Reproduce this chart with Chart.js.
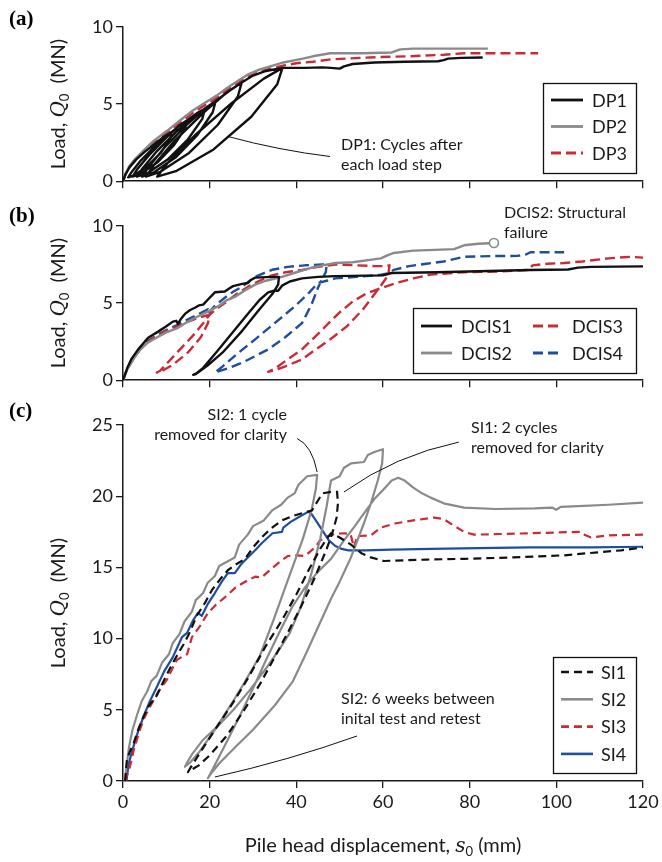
<!DOCTYPE html>
<html>
<head>
<meta charset="utf-8">
<script src="https://cdn.jsdelivr.net/npm/chart.js@4.4.1/dist/chart.umd.min.js"></script>
<style>
  html, body { margin: 0; padding: 0; background: #fff; }
  #wrap { position: relative; width: 662px; height: 862px; }
  canvas { position: absolute; left: 0; }
</style>
</head>
<body>
<div id="wrap">
  <canvas id="chartA" width="662" height="195" style="top:0px"></canvas>
  <canvas id="chartB" width="662" height="195" style="top:199px"></canvas>
  <canvas id="chartC" width="662" height="464" style="top:398px"></canvas>
</div>
<script>
// ---- data: [displacement s0 (mm), load Q0 (MN)] ----
const dp1 = [
  [0,0],[0.5,0.4],[1.5,0.9],[3,1.4],[5,1.9],[7.5,2.45],[9.5,2.9],[11.3,3.2],
  [10.9,2.76],[8.8,1.87],[5.7,0.99],[2.7,0.4],[1.2,0.25],[2.0,0.6],[4.2,1.37],[7.3,2.25],[9.8,2.91],[11.3,3.2],
  [13,3.6],[14.8,3.95],
  [14.3,3.4],[11.65,2.3],[7.9,1.21],[4.1,0.48],[2.2,0.3],[3.2,0.74],[6.0,1.69],[9.8,2.78],[12.9,3.59],[14.8,3.95],
  [17,4.4],[18.9,4.7],
  [18.3,4.04],[15.0,2.72],[10.3,1.4],[5.6,0.52],[3.2,0.3],[4.5,0.83],[7.9,1.97],[12.6,3.29],[16.6,4.26],[18.9,4.7],
  [21.4,5.2],
  [20.7,4.47],[17.2,3.0],[12.1,1.53],[7.0,0.55],[4.4,0.3],[5.8,0.89],[9.5,2.16],[14.6,3.63],[18.9,4.71],[21.4,5.2],
  [24.5,5.85],[27.4,6.4],
  [26.5,5.49],[21.9,3.66],[15.25,1.83],[8.6,0.61],[5.3,0.3],[7.1,1.03],[11.9,2.62],[18.6,4.45],[24.1,5.79],[27.4,6.4],
  [30,6.85],[33,7.15],[36.8,7.35],
  [35.6,6.29],[29.6,4.18],[20.9,2.06],[12.2,0.65],[7.9,0.3],[10.2,1.15],[16.6,2.98],[25.2,5.09],[32.5,6.65],[36.8,7.35],
  [42,7.35],[46,7.38],[48,7.35],[50,7.3],[51,7.45],[53,7.6],[58,7.7],[65,7.75],[72.7,7.78],[74,7.85],[75,7.95],[78,8.0],[83,8.02]
];
const dp2 = [
  [0,0],[0.6,0.5],[1.5,1.0],[3,1.5],[4.6,1.95],[7,2.6],[10.1,3.25],[13,3.9],[16.2,4.6],[19,5.1],[21.6,5.55],
  [24,6.05],[27,6.6],[29,6.95],[31.6,7.25],[34,7.45],[37,7.7],[41.5,7.95],[43.8,8.1],[47.8,8.3],[55,8.3],
  [62,8.35],[64,8.55],[67,8.6],[84.2,8.6]
];
const dp3 = [
  [0,0],[0.6,0.45],[1.5,0.9],[3,1.4],[4.6,1.85],[7,2.5],[10.1,3.15],[13,3.75],[16.2,4.45],[19,4.95],[21.6,5.4],
  [24,5.9],[27,6.45],[29,6.8],[31.6,7.1],[34,7.3],[37,7.5],[40,7.65],[43.8,7.75],[48,7.9],[55,8.0],[59.5,8.05],
  [66,8.1],[74,8.2],[78.7,8.3],[95.8,8.3]
];

const dcis1 = [
  [0,0],[1,0.8],[2,1.4],[3.5,2.0],[5.8,2.75],[8.1,3.15],[10,3.5],[11.5,3.8],[12.3,3.85],[12.7,3.65],[13.3,3.95],
  [14.3,4.3],[15.5,4.55],[16.6,4.7],[17.5,4.85],[18.5,4.9],[19.5,5.2],[21.2,5.7],[23.5,5.75],[24.5,5.95],[25.4,6.1],
  [27.5,6.25],[28.8,6.3],[29.5,6.5],[30.5,6.65],[34.5,6.7],[36,6.7],
  [35.8,6.2],[34.5,5.6],[31.5,4.6],[27.5,3.2],[23,1.8],[19.5,0.95],[17.3,0.5],[16.2,0.35],
  [16.8,0.4],[18.5,0.8],[21.5,1.8],[25,3.0],[28.5,4.2],[31.5,5.2],[33.5,5.7],[34.8,5.8],[35.8,5.8],[36.8,6.15],
  [38.5,6.4],[41.3,6.6],[45,6.7],[49,6.75],[56,6.78],[60,6.8],[62,6.95],[72.5,7.0],[94,7.15],[102.7,7.18],
  [105,7.3],[108,7.35],[120,7.38]
];
const dcis2 = [
  [0,0],[1,0.7],[2.5,1.4],[4,2.0],[5.8,2.45],[8,2.8],[10,3.1],[12.7,3.4],[15,3.8],[17,4.1],[19.6,4.45],[22,4.8],
  [24,5.2],[25.8,5.4],[28,5.8],[30.5,6.2],[33,6.45],[36.7,6.7],[40,7.0],[43.6,7.3],[46,7.45],[49,7.6],[53,7.65],
  [57,7.8],[59.5,7.9],[61,8.1],[62.5,8.25],[67,8.4],[72,8.45],[76.4,8.5],[78.7,8.75],[82,8.85],[85.6,8.9]
];
const dcis3 = [
  [0,0],[1,0.75],[2.5,1.45],[4,2.0],[5.8,2.5],[8,2.9],[10,3.2],[12.7,3.5],[15,3.8],[17.5,4.05],[20,4.25],
  [19.6,3.7],[18,2.8],[15,1.8],[11.5,1.0],[9,0.6],[7.8,0.5],
  [8.5,0.6],[10.5,1.2],[13.5,2.1],[16.5,3.0],[18.8,3.8],[20,4.25],
  [21.5,4.6],[23.5,5.0],[26,5.55],[28.8,6.05],[31.5,6.45],[34.4,6.8],[37.5,7.0],[41.3,7.15],[45,7.35],[49,7.5],
  [54,7.45],[57.9,7.4],[60.5,7.4],[61.5,7.45],
  [61.2,6.8],[59.3,6.06],[55.4,4.6],[51.7,3.5],[47.8,2.65],[44,1.9],[41.3,1.35],[37.5,0.9],[35,0.65],[33.5,0.55],
  [35,0.75],[38,1.35],[41.3,2.0],[45,3.0],[47.8,3.8],[50,4.4],[53,5.1],[56,5.6],[59.3,5.95],[63,6.3],[67,6.6],
  [71,6.85],[78.5,7.0],[86.5,7.05],[93.5,7.15],[94.5,7.45],[98,7.55],[101.8,7.6],[106,7.7],[112,7.9],[117,8.0],[120,7.95]
];
const dcis4 = [
  [0,0],[1,0.75],[2.5,1.45],[4,2.05],[5.8,2.55],[8,2.95],[10,3.25],[12.7,3.6],[15,3.95],[17.5,4.3],[19.6,4.6],
  [19.9,4.3],[20.3,4.55],[21.5,4.9],[23.5,5.35],[25.5,5.75],[27.5,6.06],[29,6.4],[30.5,6.7],[32.5,6.95],[34.4,7.16],
  [38,7.35],[42,7.45],[46,7.5],[47,7.5],
  [46.8,7.0],[45.8,6.5],[45,6.0],[43.5,4.9],[41.3,3.7],[37.5,2.8],[33.5,2.0],[28,1.2],[24.5,0.8],[21.2,0.5],
  [23,0.9],[26.5,1.75],[30.5,2.65],[35,3.7],[39.7,4.8],[43,5.7],[45,6.3],[47,6.45],[49,6.6],[54,6.7],[59.5,6.84],
  [61.5,6.95],[62.5,7.16],[66,7.4],[70,7.55],[74,7.7],[78.7,8.0],[85,8.05],[91,8.06],[93,8.15],[94,8.3],[101.8,8.3]
];

const si1 = [
  [0.5,0],[0.9,1.5],[1.5,2.0],[2.4,2.6],[3.5,3.6],[4.7,4.5],[6,5.3],[7.8,6.0],[9.5,7.1],[11.5,8.3],[13.2,9.2],
  [14,9.6],[15.5,10.5],[17,11.6],[18.9,12.5],[20.5,13.4],[22.5,14.2],[24.2,14.8],[26,15.2],[28.2,15.6],[30,16.4],
  [32,17.1],[34,17.7],[36.7,18.3],[39,18.6],[41.3,18.8],[43.6,19.0],[45,19.7],[46,20.2],[48,20.3],[49.4,20.3],
  [49.6,19.5],[49.3,18.5],[48.2,17.3],[47,16.3],[44.3,14.3],[41,12.2],[38,10.4],[35,8.7],[31.6,6.8],[28,5.0],
  [24,3.2],[20,1.8],[17.5,1.1],[15.6,0.75],[15,0.63],
  [15.5,0.9],[17.8,2.0],[21,3.5],[25.4,5.5],[29,7.3],[32.8,9.4],[36.7,11.3],[40,13.1],[43,14.9],[45.5,16.3],
  [47,17.0],[48,17.4],[50,17.1],[52.6,16.6],[55,16.0],[57.2,15.7],[60.2,15.45],[65,15.5],[70,15.55],[78.7,15.6],
  [90,15.7],[101.8,15.85],[109.6,16.06],[115,16.2],[120,16.4]
];
const si2 = [
  [0.4,0],[0.8,1.0],[1.4,2.4],[2.2,3.6],[3.2,4.6],[4.3,5.6],[5.6,6.3],[6.5,7.0],[7.8,7.4],[9,8.3],[10.6,8.9],
  [11.5,9.7],[13,10.3],[14.2,11.2],[15.9,11.9],[16.8,12.7],[18.5,13.2],[19.5,13.9],[21.2,14.4],[22.2,15.1],
  [24,15.4],[25.8,15.7],[26.8,16.6],[28.8,17.3],[30,17.9],[32.5,18.3],[34.4,19.0],[36.5,19.4],[38,19.9],
  [39.6,20.2],[40.5,20.8],[41.5,21.1],[42.5,21.4],[44.8,21.5],
  [44.5,20.5],[43.5,19.0],[41.5,17.0],[38.5,14.5],[34.6,11.2],[31.6,8.8],[28,6.9],[25.4,5.6],[21,3.5],[17.5,2.0],
  [15.5,1.3],[14.3,1.0],
  [14.8,1.3],[16,1.9],[18.5,2.9],[21.7,3.8],[25.5,5.0],[29.3,6.4],[33,7.9],[36,9.2],[38.5,10.4],[41,12.2],
  [43.5,14.6],[45.5,17.0],[47,19.3],[48,21.1],[50,21.4],[51,22.0],[52.6,22.3],[55.6,22.4],[56.5,22.9],[58,23.1],[60,23.3],
  [59.8,22.3],[58.8,21.1],[57.2,19.5],[55.6,18.1],[52.6,15.7],[50,14.0],[48,12.8],[45,10.8],[42,8.8],[39.2,7.0],
  [35,5.3],[30,3.6],[26,2.4],[22.4,1.3],[20.5,0.6],[19.6,0.2],
  [20.3,0.6],[21.5,1.3],[24,2.8],[27,4.6],[30,6.5],[33,8.5],[36,10.4],[39,12.2],[42,13.6],[45,14.7],[48,15.6],
  [51,16.9],[53.5,17.9],[55.6,18.8],[58,19.8],[60.5,20.6],[62,21.1],[63.5,21.3],[65,21.1],[67,20.6],[69,20.2],
  [71,19.9],[74,19.5],[78.7,19.2],[86,19.1],[95,19.15],[99,19.2],[100,19.05],[101,19.25],[105,19.3],[112,19.4],[120,19.55]
];
const si3 = [
  [0.6,0],[1.0,0.5],[1.6,1.0],[2.5,2.2],[3.9,3.6],[5,4.5],[6.2,5.2],[8,6.2],[10.1,7.1],[12.4,8.5],[13.5,8.7],
  [14.8,8.9],[15.9,10.1],[17.8,10.9],[19.6,11.8],[21.5,12.4],[23.5,12.9],[26,13.6],[28.8,14.1],[30.5,14.35],
  [32,14.3],[33.5,14.7],[35.8,15.3],[38,15.8],[40,15.85],[42,15.8],[44.3,16.4],[45.5,16.9],[47.3,17.2],[49,17.35],
  [51,17.4],[52.5,17.35],[53.3,16.4],[54,17.2],[57.2,17.25],[59.5,17.8],[63,18.1],[67,18.3],[71.8,18.5],[74,18.4],
  [76,18.0],[78.7,17.5],[81,17.3],[88,17.35],[94,17.4],[100,17.45],[105.7,17.5],[106.5,17.3],[108,17.1],[112,17.25],[120,17.3]
];
const si4 = [
  [0.8,0],[1.3,1.2],[2.4,2.4],[3.5,3.5],[4.7,4.5],[6.2,5.6],[7.8,6.6],[9.5,7.7],[11.5,8.7],[13.6,10.1],[14.8,10.4],
  [16.2,11.3],[17.3,11.8],[18.2,11.6],[19.5,12.4],[21.2,13.2],[22.8,14.0],[24.2,14.6],[25.8,14.6],[27.2,15.2],
  [28.8,15.7],[30.5,16.2],[32,16.7],[34.5,17.4],[36.7,17.5],[37,17.8],[38.7,18.2],[40.4,18.5],[42.7,18.9],
  [43.4,18.8],[44.5,18.3],[46,17.6],[47.5,16.9],[49,16.5],[50.5,16.3],[52,16.2],[56,16.2],[62,16.25],[71,16.3],
  [82,16.35],[94,16.4],[108,16.4],[120,16.45]
];

const xRange = [0, 120];
const xStep = 20;
const yStep = 5;

// ---- styles ----
const INK = '#1a1a1a';
const BLACK = '#111111';
const GREY = '#8a8a8a';
const RED = '#cc2a35';
const BLUE = '#1d4f9e';
const FONT = 'Lato, "DejaVu Sans", sans-serif';
const DASH = [10, 5];

function series(label, pts, color, dash, width) {
  return {
    label, data: pts, showLine: true, fill: false,
    borderColor: color, backgroundColor: color,
    borderDash: dash || [], borderWidth: width || 2.3,
    borderJoinStyle: 'round', borderCapStyle: 'butt',
    pointRadius: 0, pointHoverRadius: 0
  };
}

// rich text helper: runs of differently styled text laid out on one baseline
function drawRuns(ctx, runs, cx, cy) {
  let total = 0;
  runs.forEach(r => { ctx.font = r.font; r.w = ctx.measureText(r.text).width; total += r.w; });
  let x = cx - total / 2;
  ctx.textAlign = 'left';
  ctx.textBaseline = 'alphabetic';
  runs.forEach(r => { ctx.font = r.font; ctx.fillText(r.text, x, cy + (r.dy || 0)); x += r.w; });
}

const yTitle = [
  { text: 'Load, ', font: '20px ' + FONT },
  { text: 'Q', font: 'italic 20px "DejaVu Serif", serif' },
  { text: '0', font: '13px ' + FONT, dy: 4 },
  { text: '  (MN)', font: '20px ' + FONT }
];
const xTitle = [
  { text: 'Pile head displacement, ', font: '20px ' + FONT },
  { text: 's', font: 'italic 20px "DejaVu Serif", serif' },
  { text: '0', font: '13px ' + FONT, dy: 4 },
  { text: ' (mm)', font: '20px ' + FONT }
];

const axisTitles = {
  id: 'axisTitles',
  afterDraw(chart, args, opts) {
    const { ctx, chartArea: a } = chart;
    ctx.save();
    ctx.fillStyle = INK;
    ctx.translate(a.left - 58, (a.top + a.bottom) / 2);
    ctx.rotate(-Math.PI / 2);
    drawRuns(ctx, yTitle, 0, 0);
    ctx.restore();
    ctx.save();
    ctx.fillStyle = INK;
    if (opts.showX) drawRuns(ctx, xTitle, (a.left + a.right) / 2, a.bottom + 71);
    ctx.font = 'bold 21px "Liberation Serif", serif';
    ctx.fillStyle = '#000';
    ctx.textAlign = 'left';
    ctx.textBaseline = 'middle';
    ctx.fillText(opts.tag, 9, opts.tagY);
    ctx.restore();
  }
};

// framed legend with its own placement
const boxLegend = {
  id: 'boxLegend',
  afterDraw(chart, args, o) {
    const { ctx } = chart;
    ctx.save();
    ctx.fillStyle = '#fff';
    ctx.fillRect(o.x, o.y, o.w, o.h);
    ctx.strokeStyle = BLACK;
    ctx.lineWidth = 1.3;
    ctx.strokeRect(o.x + 0.5, o.y + 0.5, o.w, o.h);
    chart.data.datasets.forEach((ds, i) => {
      const col = o.cols[Math.floor(i / o.rows)];
      const yy = o.y + o.first + (i % o.rows) * o.gap;
      ctx.beginPath();
      ctx.setLineDash(ds.borderDash);
      ctx.strokeStyle = ds.borderColor;
      ctx.lineWidth = ds.borderWidth + 0.4;
      ctx.moveTo(o.x + col.l0, yy);
      ctx.lineTo(o.x + col.l1, yy);
      ctx.stroke();
      ctx.setLineDash([]);
      ctx.fillStyle = INK;
      ctx.font = '18px ' + FONT;
      ctx.textAlign = 'left';
      ctx.textBaseline = 'middle';
      ctx.fillText(ds.label, o.x + col.t, yy + 1);
    });
    ctx.restore();
  }
};

// text notes, with optional curved leader lines given in data units
const notes = {
  id: 'notes',
  afterDatasetsDraw(chart, args, opts) {
    const { ctx, scales: { x, y } } = chart;
    ctx.save();
    (opts.items || []).forEach(n => {
      if (n.leader) {
        const p = n.leader.map(q => [x.getPixelForValue(q[0]), y.getPixelForValue(q[1])]);
        ctx.beginPath();
        ctx.moveTo(p[0][0], p[0][1]);
        ctx.quadraticCurveTo(p[1][0], p[1][1], p[2][0], p[2][1]);
        ctx.strokeStyle = BLACK;
        ctx.lineWidth = 1;
        ctx.stroke();
      }
      ctx.fillStyle = INK;
      ctx.font = '16px ' + FONT;
      ctx.textAlign = n.align || 'left';
      ctx.textBaseline = 'middle';
      n.lines.forEach((t, i) => ctx.fillText(t, n.x, n.y + i * 20));
    });
    ctx.restore();
  }
};

function axis(min, max, step, showLabels, fit) {
  return {
    type: 'linear', min, max, afterFit: fit,
    ticks: { stepSize: step, display: showLabels, color: INK, padding: 3, maxRotation: 0,
             font: { family: FONT, size: 18 } },
    grid: { drawOnChartArea: false, drawTicks: true, tickLength: 7, color: INK, lineWidth: 1.3 },
    border: { display: true, color: INK, width: 1.5 }
  };
}

function makeChart(id, cfg) {
  const canvas = document.getElementById(id);
  const H = canvas.height;
  return new Chart(canvas, {
    type: 'scatter',
    data: { datasets: cfg.datasets },
    options: {
      responsive: false, animation: false, events: [], devicePixelRatio: 1,
      layout: { padding: { top: 27, right: 19, left: 0, bottom: 0 } },
      scales: {
        x: axis(xRange[0], xRange[1], xStep, cfg.xLabels, s => { s.height = H - 27 - cfg.plotH; }),
        y: axis(0, cfg.yMax, yStep, true, s => { s.width = 123; })
      },
      plugins: {
        legend: { display: false },
        tooltip: { enabled: false },
        boxLegend: cfg.legend,
        notes: { items: cfg.notes },
        axisTitles: { showX: cfg.xLabels, tag: cfg.tag, tagY: cfg.tagY }
      }
    },
    plugins: [notes, boxLegend, axisTitles]
  });
}

makeChart('chartA', {
  yMax: 10, plotH: 155, xLabels: false, tag: '(a)', tagY: 20,
  datasets: [
    series('DP1', dp1, BLACK, [], 2.4),
    series('DP2', dp2, GREY, [], 2.4),
    series('DP3', dp3, RED, DASH, 2.4)
  ],
  legend: { x: 543, y: 83, w: 93, h: 90, rows: 3, first: 17, gap: 26.5,
            cols: [{ l0: 8, l1: 40, t: 49 }] },
  notes: [
    { lines: ['DP1: Cycles after', 'each load step'], x: 341, y: 145,
      leader: [[24.2, 2.9], [36, 2.0], [47.8, 1.6]] }
  ]
});

const dcis2Set = series('DCIS2', dcis2, GREY, [], 2.4);
dcis2Set.pointRadius = c => (c.dataIndex === dcis2.length - 1 ? 4.5 : 0);
dcis2Set.pointBackgroundColor = '#fff';
dcis2Set.pointBorderColor = GREY;
dcis2Set.pointBorderWidth = 1.6;

makeChart('chartB', {
  yMax: 10, plotH: 155, xLabels: false, tag: '(b)', tagY: 18,
  datasets: [
    series('DCIS1', dcis1, BLACK, [], 2.4),
    dcis2Set,
    series('DCIS3', dcis3, RED, DASH, 2.4),
    series('DCIS4', dcis4, BLUE, DASH, 2.4)
  ],
  legend: { x: 413, y: 109, w: 223, h: 65, rows: 2, first: 18, gap: 27,
            cols: [{ l0: 8, l1: 39, t: 48 }, { l0: 120, l1: 146, t: 159 }] },
  notes: [
    { lines: ['DCIS2: Structural', 'failure'], x: 504, y: 14 }
  ]
});

makeChart('chartC', {
  yMax: 25, plotH: 356, xLabels: true, tag: '(c)', tagY: 14,
  datasets: [
    series('SI1', si1, BLACK, [8, 5], 2.2),
    series('SI2', si2, GREY, [], 2.2),
    series('SI3', si3, RED, [8, 5], 2.2),
    series('SI4', si4, BLUE, [], 2.2)
  ],
  legend: { x: 553, y: 259, w: 83, h: 116, rows: 4, first: 15, gap: 27.3,
            cols: [{ l0: 8, l1: 40, t: 48 }] },
  notes: [
    { lines: ['SI2: 1 cycle', 'removed for clarity'], x: 287, y: 17, align: 'right',
      leader: [[40.2, 24.05], [43.6, 23.56], [44.8, 21.7]] },
    { lines: ['SI1: 2 cycles', 'removed for clarity'], x: 471, y: 30,
      leader: [[77.5, 23.8], [62.8, 22.86], [51, 20.3]] },
    { lines: ['SI2: 6 weeks between', 'inital test and retest'], x: 341, y: 301,
      leader: [[21.2, 0.28], [38.5, 1.47], [54, 3.16]] }
  ]
});
</script>
</body>
</html>
